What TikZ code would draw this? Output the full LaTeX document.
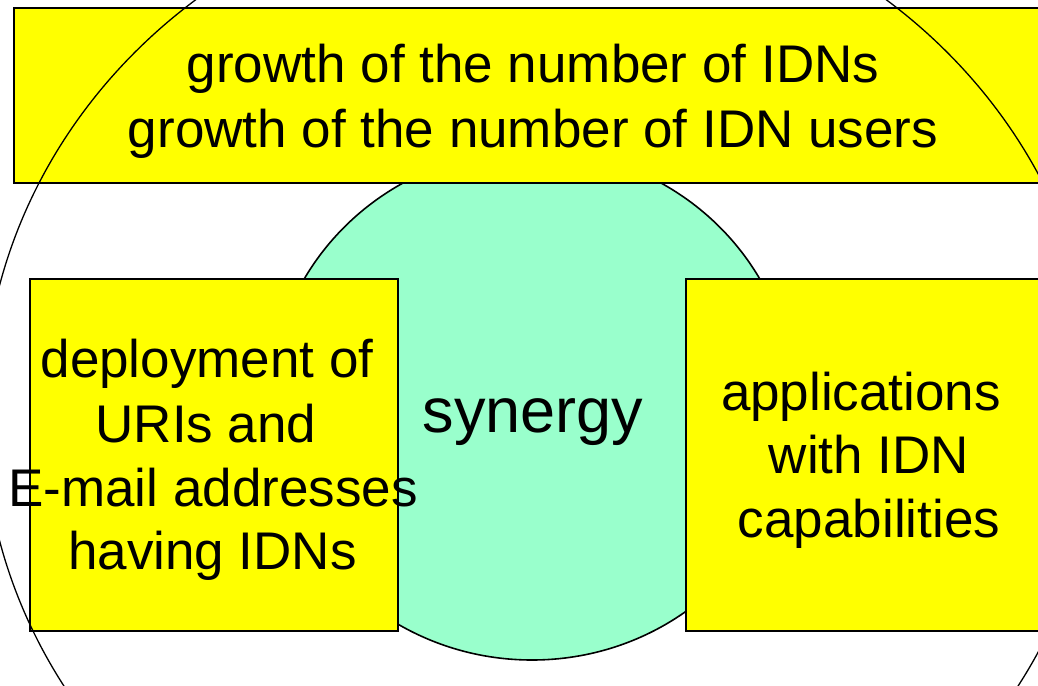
\documentclass[tikz,border=0pt]{standalone}
\usepackage{fontspec}
\setmainfont{Liberation Sans}
\definecolor{boxyellow}{HTML}{FFFF00}
\definecolor{synergygreen}{HTML}{99FFCC}
\begin{document}
\begin{tikzpicture}[x=1pt,y=-1pt,
  box/.style={draw=black, line width=1.8pt, fill=boxyellow, inner sep=0pt, anchor=north west},
  txt/.style={font=\fontsize{53}{64}\selectfont, inner sep=0pt, anchor=base},
  bigtxt/.style={font=\fontsize{63}{76}\selectfont, inner sep=0pt, anchor=base},
  ]
\useasboundingbox (0,0) rectangle (1038,685);
\clip (0,0) rectangle (1038,685);
% green synergy circle
\draw[fill=synergygreen, line width=1.6pt] (532,405) ellipse [x radius=262pt, y radius=255pt];
% boxes
\node[box, minimum width=1042pt, minimum height=175pt] (topbox) at (13,7) {};
\node[box, minimum width=368pt, minimum height=352pt] (leftbox) at (29,278) {};
\node[box, minimum width=372pt, minimum height=352pt] (rightbox) at (685,278) {};
% large outer circle
\draw[line width=1.3pt] (541,413) ellipse [x radius=558pt, y radius=526pt];
% texts
\node[txt] (t1) at (533,82) {growth of the number of IDNs};
\node[txt] (t2) at (533,147) {growth of the number of IDN users};
\node[txt] (l1) at (207,377) {deployment of};
\node[txt] (l2) at (206,442) {URIs and};
\node[txt] (l3) at (213,506) {E-mail addresses};
\node[txt] (l4) at (212.5,569) {having IDNs};
\node[bigtxt] (syn) at (533,432) {synergy};
\node[txt] (r1) at (861,410) {applications};
\node[txt] (r2) at (869,473) {with IDN};
\node[txt] (r3) at (869,537) {capabilities};
\end{tikzpicture}
\end{document}
